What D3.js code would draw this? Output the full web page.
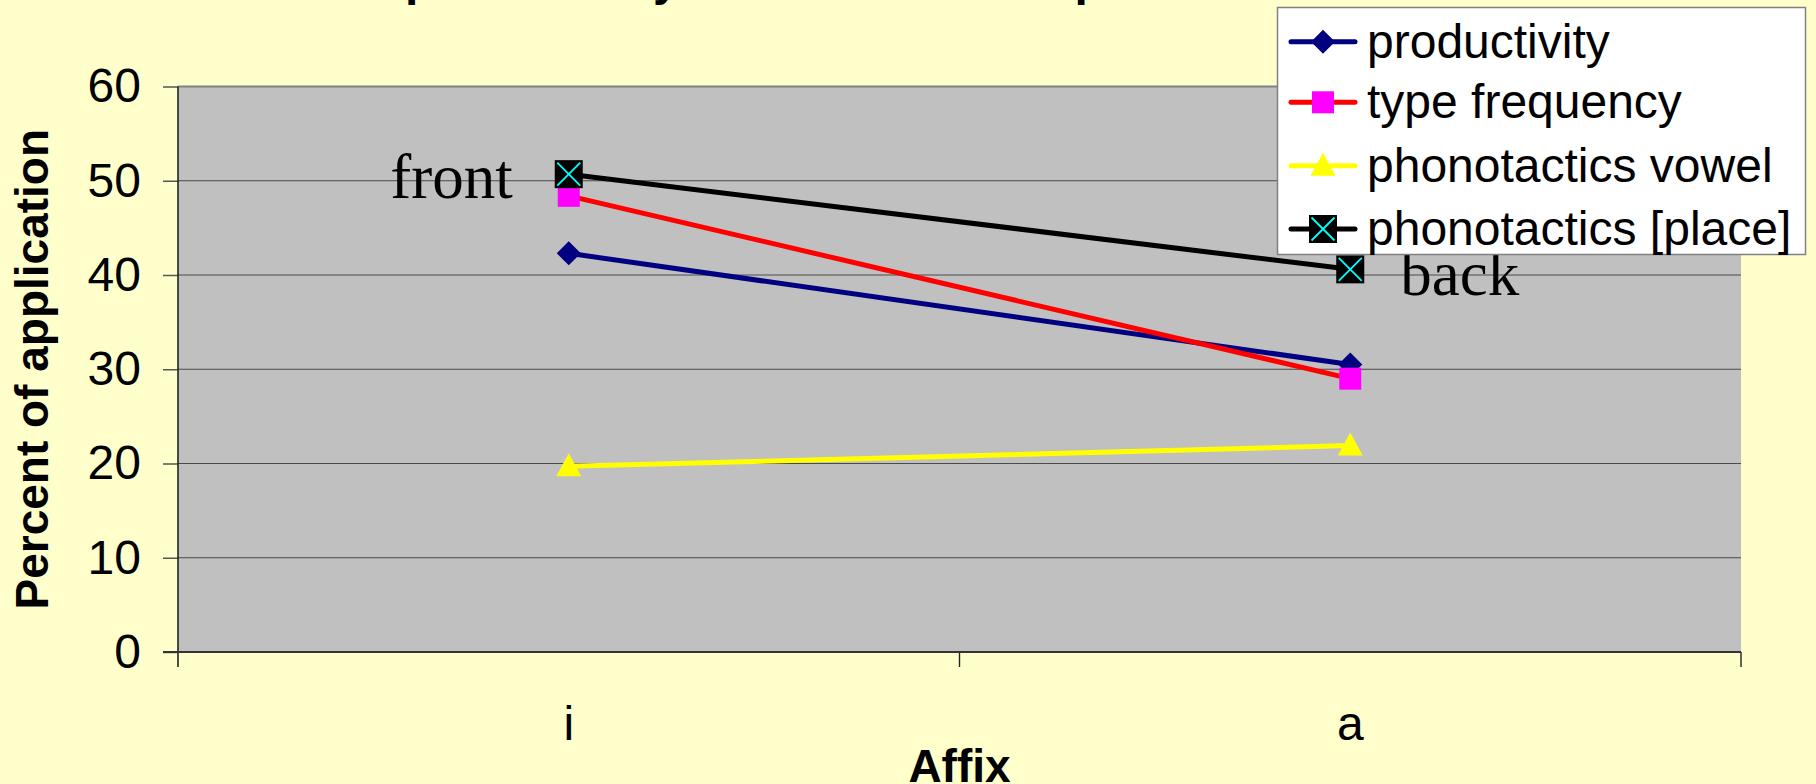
<!DOCTYPE html>
<html>
<head>
<meta charset="utf-8">
<script src="https://cdn.jsdelivr.net/npm/d3@7"></script>
<style>
  html, body { margin: 0; padding: 0; background: #FFFFCC; }
  svg { display: block; }
</style>
</head>
<body>
<svg id="chart" width="1816" height="784"></svg>
<script>
// Affix categories and percent of application per predictor
const categories = ["i", "a"];
const productivity = [42.3, 30.5];
const typeFrequency = [48.4, 29.0];
const phonotacticsVowel = [19.7, 21.9];
const phonotacticsPlace = [50.7, 40.6];
const yTicks = [0, 10, 20, 30, 40, 50, 60];
const seriesNames = ["productivity", "type frequency", "phonotactics vowel", "phonotactics [place]"];
const pointNotes = [{ cat: "i", text: "front" }, { cat: "a", text: "back" }];

const series = [
  { name: seriesNames[0], values: productivity, line: "#000080", marker: "diamond" },
  { name: seriesNames[1], values: typeFrequency, line: "#FF0000", marker: "square" },
  { name: seriesNames[2], values: phonotacticsVowel, line: "#FFFF00", marker: "triangle" },
  { name: seriesNames[3], values: phonotacticsPlace, line: "#000000", marker: "xbox" }
];

const svg = d3.select("#chart");
const W = 1816, H = 784;
const plot = { left: 178, right: 1741, top: 86.5, bottom: 652 };

svg.append("rect").attr("width", W).attr("height", H).attr("fill", "#FFFFCC");

const x = d3.scaleBand().domain(categories).range([plot.left, plot.right]).padding(0);
const y = d3.scaleLinear().domain([0, 60]).range([plot.bottom, plot.top]);
const cx = c => x(c) + x.bandwidth() / 2;

// Title (runs off the top edge)
svg.append("text")
  .attr("x", 285).attr("y", -5)
  .attr("font-family", "Liberation Sans, Arial, sans-serif")
  .attr("font-weight", "bold").attr("font-size", 48)
  .attr("fill", "#000")
  .text("Affix productivity and its match to phonotactics");

// Plot area
svg.append("rect")
  .attr("x", plot.left).attr("y", plot.top)
  .attr("width", plot.right - plot.left).attr("height", plot.bottom - plot.top)
  .attr("fill", "#C0C0C0");

// Horizontal gridlines
svg.append("g").selectAll("line")
  .data(yTicks.filter(t => t > 0))
  .join("line")
  .attr("x1", plot.left).attr("x2", plot.right)
  .attr("y1", d => y(d)).attr("y2", d => y(d))
  .attr("stroke", d => d === 60 ? "#808080" : "#4a4a4a")
  .attr("stroke-width", d => d === 60 ? 2 : 1.2);

// Y axis
const yAxis = svg.append("g")
  .attr("transform", `translate(${plot.left},0)`)
  .call(d3.axisLeft(y).tickValues(yTicks).tickSize(15).tickPadding(22).tickFormat(d3.format("d")));
yAxis.select(".domain").remove();
yAxis.selectAll(".tick line").attr("stroke", "#555").attr("stroke-width", 1.5);
yAxis.selectAll(".tick text")
  .attr("font-family", "Liberation Sans, Arial, sans-serif")
  .attr("font-size", 48).attr("fill", "#000");

svg.append("line")
  .attr("x1", plot.left).attr("x2", plot.left)
  .attr("y1", plot.top).attr("y2", plot.bottom + 15)
  .attr("stroke", "#222").attr("stroke-width", 1.6);

// X axis: labels at band centres, ticks at band edges
const xAxis = svg.append("g")
  .attr("transform", `translate(0,${plot.bottom})`)
  .call(d3.axisBottom(x).tickSize(0).tickPadding(54));
xAxis.select(".domain").remove();
xAxis.selectAll(".tick text")
  .attr("font-family", "Liberation Sans, Arial, sans-serif")
  .attr("font-size", 48).attr("fill", "#000");

const edges = categories.map(c => x(c)).concat([x(categories[categories.length - 1]) + x.bandwidth()]);
svg.append("g").selectAll("line")
  .data(edges.slice(1))
  .join("line")
  .attr("x1", d => d).attr("x2", d => d)
  .attr("y1", plot.bottom).attr("y2", plot.bottom + 15)
  .attr("stroke", "#222").attr("stroke-width", 1.4);

svg.append("line")
  .attr("x1", plot.left - 15).attr("x2", plot.right)
  .attr("y1", plot.bottom).attr("y2", plot.bottom)
  .attr("stroke", "#333").attr("stroke-width", 2.2);

// Axis titles
svg.append("text")
  .attr("transform", `translate(48,${(plot.top + plot.bottom) / 2}) rotate(-90)`)
  .attr("text-anchor", "middle")
  .attr("font-family", "Liberation Sans, Arial, sans-serif")
  .attr("font-weight", "bold").attr("font-size", 46)
  .text("Percent of application");

svg.append("text")
  .attr("x", (plot.left + plot.right) / 2).attr("y", 782)
  .attr("text-anchor", "middle")
  .attr("font-family", "Liberation Sans, Arial, sans-serif")
  .attr("font-weight", "bold").attr("font-size", 46)
  .text("Affix");

// Marker drawing
function drawMarker(g, type, px, py) {
  if (type === "diamond") {
    g.append("path")
      .attr("d", `M${px},${py - 12}L${px + 12},${py}L${px},${py + 12}L${px - 12},${py}Z`)
      .attr("fill", "#000080");
  } else if (type === "square") {
    g.append("rect")
      .attr("x", px - 11).attr("y", py - 11).attr("width", 22).attr("height", 22)
      .attr("fill", "#FF00FF");
  } else if (type === "triangle") {
    g.append("path")
      .attr("d", `M${px},${py - 13}L${px + 12.5},${py + 10}L${px - 12.5},${py + 10}Z`)
      .attr("fill", "#FFFF00");
  } else if (type === "xbox") {
    const s = 14;
    g.append("rect")
      .attr("x", px - s).attr("y", py - s).attr("width", 2 * s).attr("height", 2 * s)
      .attr("fill", "#000");
    const k = s - 2.5;
    g.append("path")
      .attr("d", `M${px - k},${py - k}L${px + k},${py + k}M${px + k},${py - k}L${px - k},${py + k}`)
      .attr("stroke", "#00FFFF").attr("stroke-width", 1.8).attr("fill", "none");
  }
}

// Series lines and markers
const line = d3.line().x((d, i) => cx(categories[i])).y(d => y(d));
series.forEach(s => {
  const g = svg.append("g");
  g.append("path")
    .attr("d", line(s.values))
    .attr("fill", "none").attr("stroke", s.line).attr("stroke-width", 5);
  s.values.forEach((v, i) => drawMarker(g, s.marker, cx(categories[i]), y(v)));
});

// Point annotations
const notes = svg.append("g")
  .attr("font-family", "Liberation Serif, Times New Roman, serif")
  .attr("font-size", 63).attr("fill", "#000");
notes.append("text")
  .attr("x", cx(pointNotes[0].cat) - 56).attr("y", 198)
  .attr("text-anchor", "end")
  .text(pointNotes[0].text);
notes.append("text")
  .attr("x", cx(pointNotes[1].cat) + 50).attr("y", 295)
  .attr("text-anchor", "start")
  .text(pointNotes[1].text);

// Legend
const lg = svg.append("g");
lg.append("rect")
  .attr("x", 1277.5).attr("y", 7.5).attr("width", 528).attr("height", 247)
  .attr("fill", "#FFFFFF").attr("stroke", "#808080").attr("stroke-width", 1.5);
const rowY = [41.7, 102.3, 165.7, 229];
series.forEach((s, i) => {
  const ry = rowY[i];
  lg.append("line")
    .attr("x1", 1291).attr("x2", 1355).attr("y1", ry).attr("y2", ry)
    .attr("stroke", s.line).attr("stroke-width", 5).attr("stroke-linecap", "round");
  drawMarker(lg, s.marker, 1323, ry);
  lg.append("text")
    .attr("x", 1367).attr("y", ry + 16)
    .attr("font-family", "Liberation Sans, Arial, sans-serif")
    .attr("font-size", 48).attr("fill", "#000")
    .text(s.name);
});
</script>
</body>
</html>
